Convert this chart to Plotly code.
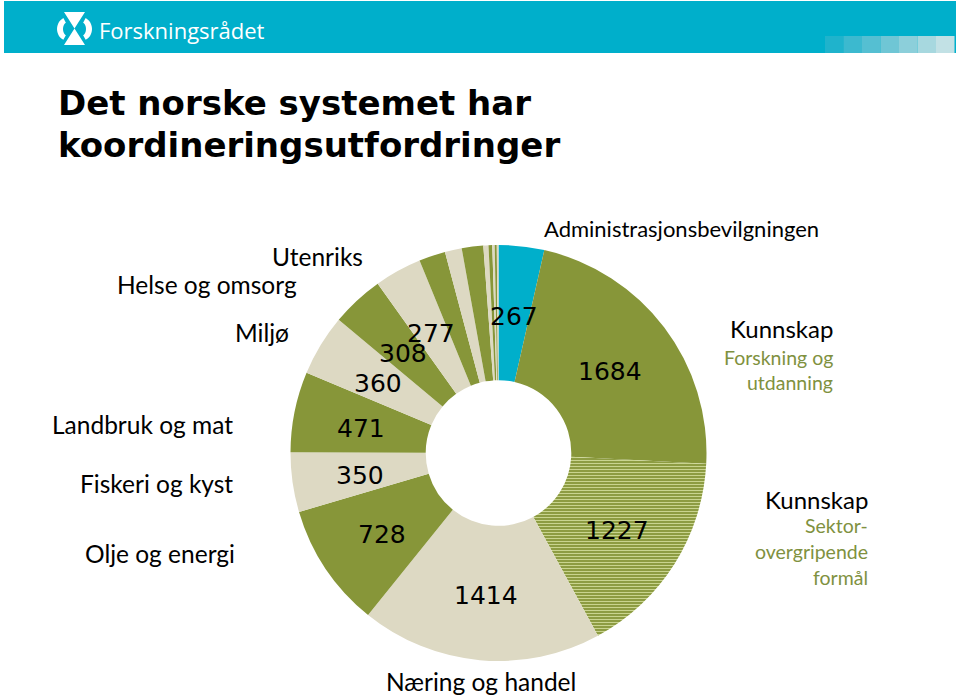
import math
import plotly.graph_objects as go

W, H = 960, 696

# ---------------- data ----------------
slice_names = [
    "Administrasjonsbevilgningen",
    "Kunnskap – Forskning og utdanning",
    "Kunnskap – Sektorovergripende formål",
    "Næring og handel",
    "Olje og energi",
    "Fiskeri og kyst",
    "Landbruk og mat",
    "Miljø",
    "Helse og omsorg",
    "Utenriks",
    "Øvrig 1", "Øvrig 2", "Øvrig 3", "Øvrig 4", "Øvrig 5", "Øvrig 6", "Øvrig 7", "Øvrig 8",
]
slice_values = [267, 1684, 1227, 1414, 728, 350, 471, 360, 308, 277,
                155, 99, 126, 30, 22, 14, 12, 10]
value_shown = [True] * 10 + [False] * 8

GREEN = "#879639"
TAN = "#DDD9C3"
BLUE = "#00AFCB"
slice_colors = [BLUE, GREEN, GREEN, TAN, GREEN, TAN, GREEN, TAN, GREEN, TAN,
                GREEN, TAN, GREEN, TAN, GREEN, TAN, GREEN, TAN]
slice_patterns = ["", "", "-"] + [""] * 15


def px(x, y):
    return x / W, 1 - y / H


# pie placement (paper)
cx, cy, R = 498.5, 453, 208
dom_x = [(cx - R) / W, (cx + R) / W]
dom_y = [1 - (cy + R) / H, 1 - (cy - R) / H]
HOLE = 0.35

fig = go.Figure()
fig.add_trace(go.Pie(
    labels=slice_names, values=slice_values, sort=False,
    direction="clockwise", rotation=0, hole=HOLE,
    marker=dict(colors=slice_colors, line=dict(width=0),
                pattern=dict(shape=slice_patterns, fgcolor="#c9d48f",
                             bgcolor=slice_colors, size=3, solidity=0.4,
                             fillmode="replace")),
    textinfo="none", showlegend=False, domain=dict(x=dom_x, y=dom_y),
    hoverinfo="label+value",
))

ann = []


def text(x, y, s, size, color="black", xanchor="left", family="Lato"):
    X, Y = px(x, y)
    ann.append(dict(x=X, y=Y, xref="paper", yref="paper", text=s, showarrow=False,
                    xanchor=xanchor, yanchor="middle",
                    font=dict(family=family, size=size, color=color)))


# value labels at the middle of the ring, angle derived from the data
total = sum(slice_values)
cum = 0
rr = R * (1 + HOLE) / 2
for v, s in zip(slice_values, value_shown):
    mid = math.radians((cum + v / 2) / total * 360)
    cum += v
    if s:
        text(cx + rr * math.sin(mid), cy - rr * math.cos(mid) + 3, str(v), 25,
             "black", "center", "DejaVu Sans")

shapes = []
# banner
shapes.append(dict(type="rect", xref="paper", yref="paper",
                   x0=4 / W, x1=956 / W, y0=1 - 53 / H, y1=1 - 1 / H,
                   fillcolor="#00AFCB", line=dict(width=0), layer="below"))
sq_cols = ["#1fb3cc", "#3cb9cf", "#55bfd2", "#6fc6d5", "#8ccfda", "#a7d8df", "#c2e1e5"]
for i, c in enumerate(sq_cols):
    x0 = 825 + i * 18.5
    shapes.append(dict(type="rect", xref="paper", yref="paper",
                       x0=x0 / W, x1=(x0 + 18.5) / W, y0=1 - 53 / H, y1=1 - 36 / H,
                       fillcolor=c, line=dict(width=0), layer="below"))


def path_px(pts):
    s = ""
    for i, (x, y) in enumerate(pts):
        X, Y = px(x, y)
        s += ("M" if i == 0 else "L") + f"{X:.5f},{Y:.5f} "
    return s + "Z"


# logo: hourglass + two curved arrows
shapes.append(dict(type="path", xref="paper", yref="paper",
                   path=path_px([(64, 12), (85, 12), (74.5, 28.5), (85, 45), (64, 45), (74.5, 28.5)]),
                   fillcolor="white", line=dict(width=0)))
left_arc = [(68 - 11 * math.sin(math.radians(a)), 29 - 12 * math.cos(math.radians(a))) for a in range(25, 156, 10)]
left_arc += [(68 - 5 * math.sin(math.radians(a)), 29 - 7 * math.cos(math.radians(a))) for a in range(155, 24, -10)]
shapes.append(dict(type="path", xref="paper", yref="paper", path=path_px(left_arc),
                   fillcolor="white", line=dict(width=0)))
right_arc = [(81 + 11 * math.sin(math.radians(a)), 29 - 12 * math.cos(math.radians(a))) for a in range(25, 156, 10)]
right_arc += [(81 + 5 * math.sin(math.radians(a)), 29 - 7 * math.cos(math.radians(a))) for a in range(155, 24, -10)]
shapes.append(dict(type="path", xref="paper", yref="paper", path=path_px(right_arc),
                   fillcolor="white", line=dict(width=0)))

GTXT = "#7f9140"
text(97, 30, "Forskningsrådet", 22, "white", "left", "Open Sans")
text(56, 103, "<b>Det norske systemet har</b>", 34, family="DejaVu Sans")
text(56, 145, "<b>koordineringsutfordringer</b>", 34, family="DejaVu Sans")

text(365, 257, "Utenriks", 24.5, xanchor="right")
text(299, 284, "Helse og omsorg", 24.5, xanchor="right")
text(291, 332, "Miljø", 24.5, xanchor="right")
text(235, 424, "Landbruk og mat", 24.5, xanchor="right")
text(235, 483, "Fiskeri og kyst", 24.5, xanchor="right")
text(237, 553, "Olje og energi", 24.5, xanchor="right")
text(481, 681, "Næring og handel", 24.5, xanchor="center")
text(542, 228, "Administrasjonsbevilgningen", 22)
text(835, 329, "Kunnskap", 24, xanchor="right")
text(835, 357, "Forskning og", 19.5, GTXT, "right")
text(835, 382, "utdanning", 19.5, GTXT, "right")
text(870, 499, "Kunnskap", 24, xanchor="right")
text(870, 525, "Sektor-", 19.5, GTXT, "right")
text(870, 551, "overgripende", 19.5, GTXT, "right")
text(870, 577, "formål", 19.5, GTXT, "right")

fig.update_layout(width=W, height=H, margin=dict(l=0, r=0, t=0, b=0),
                  paper_bgcolor="white", plot_bgcolor="white",
                  shapes=shapes, annotations=ann, showlegend=False)

fig.write_html("out.html")
